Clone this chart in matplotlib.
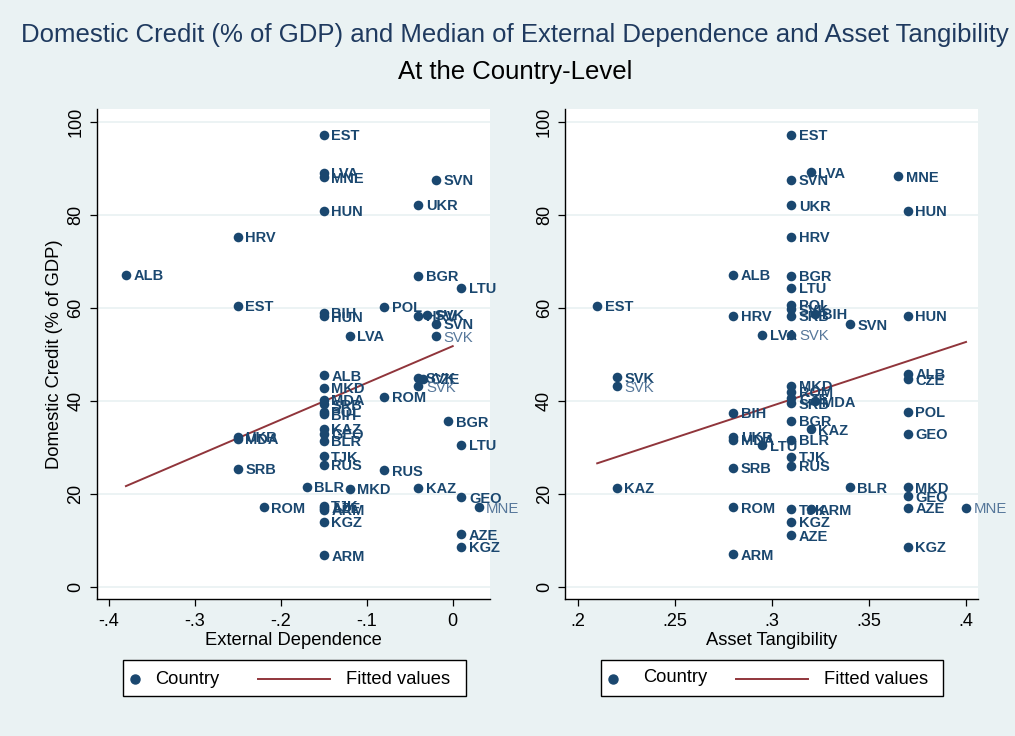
import matplotlib.pyplot as plt
from matplotlib.lines import Line2D
from matplotlib.patches import Rectangle

plt.rcParams['font.family'] = ['Liberation Sans', 'DejaVu Sans']

# ---- data ----
# Left panel: External Dependence vs Domestic Credit
ext_labels = ["EST", "LVA", "MNE", "SVN", "UKR", "HUN", "HRV", "ALB", "BGR", "LTU",
              "EST", "POL", "BIH", "HUN", "SVK", "HRV", "SVN", "LVA",
              "ALB", "MKD", "MDA", "SRB", "POL", "BIH", "ROM", "SVK", "CZE",
              "BGR", "KAZ", "GEO", "BLR", "UKR", "MDA", "LTU", "TJK", "RUS",
              "SRB", "RUS", "BLR", "MKD", "KAZ", "GEO", "ROM", "TJK", "AZE",
              "ARM", "KGZ", "AZE", "KGZ", "ARM"]
ext_x = [-0.15, -0.15, -0.15, -0.02, -0.04, -0.15, -0.25, -0.38, -0.04, 0.01,
         -0.25, -0.08, -0.15, -0.15, -0.03, -0.04, -0.02, -0.12,
         -0.15, -0.15, -0.15, -0.15, -0.15, -0.15, -0.08, -0.04, -0.035,
         -0.005, -0.15, -0.15, -0.15, -0.25, -0.25, 0.01, -0.15, -0.15,
         -0.25, -0.08, -0.17, -0.12, -0.04, 0.01, -0.22, -0.15, -0.15,
         -0.15, -0.15, 0.01, 0.01, -0.15]
ext_y = [97.2, 89.0, 88.0, 87.5, 82.1, 80.8, 75.2, 67.0, 66.8, 64.3,
         60.4, 60.1, 58.9, 58.1, 58.4, 58.2, 56.5, 53.9,
         45.4, 42.7, 40.1, 39.2, 37.6, 37.0, 40.8, 44.9, 44.7,
         35.5, 33.9, 32.9, 31.4, 32.2, 31.8, 30.5, 28.0, 26.2,
         25.3, 25.0, 21.4, 21.0, 21.2, 19.2, 17.0, 17.4, 16.9,
         16.5, 13.9, 11.2, 8.5, 6.7]
# observations whose labels print lighter in the original
ext_faint_labels = ["SVK", "SVK", "MNE"]
ext_faint_x = [-0.02, -0.04, 0.03]
ext_faint_y = [53.8, 43.1, 17.0]
ext_fit_x = [-0.38, 0.0]
ext_fit_y = [21.6, 51.7]

# Right panel: Asset Tangibility vs Domestic Credit
tan_labels = ["EST", "LVA", "SVN", "MNE", "UKR", "HUN", "HRV", "ALB", "BGR", "LTU",
              "EST", "POL", "SVK", "SRB", "BIH", "HRV", "HUN", "SVN", "LVA",
              "ALB", "CZE", "SVK", "MKD", "ROM", "CZE", "SRB", "MDA",
              "BIH", "POL", "BGR", "KAZ", "GEO", "UKR", "MDA", "BLR", "LTU",
              "TJK", "RUS", "SRB", "KAZ", "BLR", "MKD", "GEO", "AZE", "ROM",
              "TJK", "ARM", "KGZ", "AZE", "KGZ", "ARM"]
tan_x = [0.31, 0.32, 0.31, 0.365, 0.31, 0.37, 0.31, 0.28, 0.31, 0.31,
         0.21, 0.31, 0.31, 0.31, 0.322, 0.28, 0.37, 0.34, 0.295,
         0.37, 0.37, 0.22, 0.31, 0.31, 0.31, 0.31, 0.322,
         0.28, 0.37, 0.31, 0.32, 0.37, 0.28, 0.28, 0.31, 0.295,
         0.31, 0.31, 0.28, 0.22, 0.34, 0.37, 0.37, 0.37, 0.28,
         0.31, 0.32, 0.31, 0.31, 0.37, 0.28]
tan_y = [97.2, 89.1, 87.5, 88.2, 82.0, 80.8, 75.2, 67.0, 66.8, 64.3,
         60.4, 60.6, 59.6, 58.2, 58.6, 58.2, 58.2, 56.4, 54.1,
         45.8, 44.6, 45.0, 43.2, 41.9, 40.5, 39.4, 39.8,
         37.3, 37.6, 35.6, 33.8, 32.9, 32.2, 31.6, 31.6, 30.4,
         27.9, 26.0, 25.5, 21.2, 21.3, 21.3, 19.4, 16.9, 17.0,
         16.6, 16.6, 13.9, 11.0, 8.6, 6.9]
tan_faint_labels = ["SVK", "SVK", "MNE"]
tan_faint_x = [0.31, 0.22, 0.40]
tan_faint_y = [54.1, 43.1, 16.9]
tan_fit_x = [0.21, 0.40]
tan_fit_y = [26.5, 52.6]

navy = '#1A476F'
faint = '#56779A'
maroon = '#90353B'
bg = '#EAF2F3'

fig = plt.figure(figsize=(10.15, 7.36), dpi=100, facecolor=bg)


def panel(rect, labels, xs, ys, flabels, fx, fy, fitx, fity, xlim, xticks, xticklabels, xlabel):
    ax = fig.add_axes(rect)
    ax.set_facecolor('white')
    ax.plot(fitx, fity, color=maroon, lw=1.4, zorder=2)
    ax.scatter(xs + fx, ys + fy, s=48, color=navy, linewidths=0, zorder=3)
    for lab, x, y in zip(labels, xs, ys):
        ax.annotate(lab, (x, y), xytext=(5.5, -1), textcoords='offset points',
                    va='center', ha='left', fontsize=10.5, fontweight='bold',
                    color=navy, zorder=4)
    for lab, x, y in zip(flabels, fx, fy):
        ax.annotate(lab, (x, y), xytext=(5.5, -1), textcoords='offset points',
                    va='center', ha='left', fontsize=10.7, color=faint, zorder=4)
    ax.set_xlim(*xlim)
    ax.set_ylim(-2.75, 102.7)
    ax.set_xticks(xticks)
    ax.set_xticklabels(xticklabels, fontsize=13)
    ax.set_yticks([0, 20, 40, 60, 80, 100])
    ax.set_yticklabels(['0', '20', '40', '60', '80', '100'], fontsize=13,
                       rotation=90, va='center')
    ax.tick_params(axis='both', length=5, width=0.9, color='black')
    ax.tick_params(axis='x', pad=5)
    ax.tick_params(axis='y', pad=4)
    ax.yaxis.grid(True, color=bg, lw=1.3)
    ax.set_axisbelow(True)
    for s in ['top', 'right']:
        ax.spines[s].set_visible(False)
    for s in ['left', 'bottom']:
        ax.spines[s].set_linewidth(1.0)
    ax.set_xlabel(xlabel, fontsize=13.2)
    ax.xaxis.set_label_coords(0.5, -0.067)
    ax.xaxis.label.set_va('top')
    return ax


ax1 = panel([0.0956, 0.1857, 0.3872, 0.6662], ext_labels, ext_x, ext_y,
            ext_faint_labels, ext_faint_x, ext_faint_y, ext_fit_x, ext_fit_y,
            (-0.4136, 0.0434), [-0.4, -0.3, -0.2, -0.1, 0.0],
            ['-.4', '-.3', '-.2', '-.1', '0'], 'External Dependence')
ax1.set_ylabel('Domestic Credit (% of GDP)', fontsize=13.2)
ax1.yaxis.set_label_coords(-0.087, 0.5)

ax2 = panel([0.557, 0.1857, 0.4066, 0.6662], tan_labels, tan_x, tan_y,
            tan_faint_labels, tan_faint_x, tan_faint_y, tan_fit_x, tan_fit_y,
            (0.1936, 0.4062), [0.2, 0.25, 0.3, 0.35, 0.4],
            ['.2', '.25', '.3', '.35', '.4'], 'Asset Tangibility')

# legends drawn in figure pixels to mimic the Stata boxes
W, H = 1015.0, 736.0


def legend_box(x0, x1, mx, tx, lx0, lx1, fx, ty):
    fig.add_artist(Rectangle((x0 / W, 1 - 696 / H), (x1 - x0) / W, 36 / H,
                             transform=fig.transFigure, facecolor='white',
                             edgecolor='black', lw=1.0))
    fig.add_artist(Line2D([mx / W], [1 - 679 / H], marker='o', markersize=6.5,
                          color=navy, lw=0, transform=fig.transFigure))
    fig.text(tx / W, 1 - ty / H, 'Country', fontsize=13.2, va='center', ha='left')
    fig.add_artist(Line2D([lx0 / W, lx1 / W], [1 - 679 / H, 1 - 679 / H],
                          color=maroon, lw=1.4, transform=fig.transFigure))
    fig.text(fx / W, 1 - 679 / H, 'Fitted values', fontsize=13.2, va='center', ha='left')


legend_box(123, 465.5, 135, 155, 258, 330, 346, 679)
legend_box(600.7, 942.7, 613, 643, 736, 808, 824, 677)

fig.text(0.5075, 1 - 35 / H, 'Domestic Credit (% of GDP) and Median of External Dependence and Asset Tangibility',
         ha='center', va='center', fontsize=18.5, color='#1F3A5F')
fig.text(0.5075, 1 - 72 / H, 'At the Country-Level', ha='center', va='center',
         fontsize=18.5, color='black')

fig.savefig('out.png', dpi=100, facecolor=bg)
